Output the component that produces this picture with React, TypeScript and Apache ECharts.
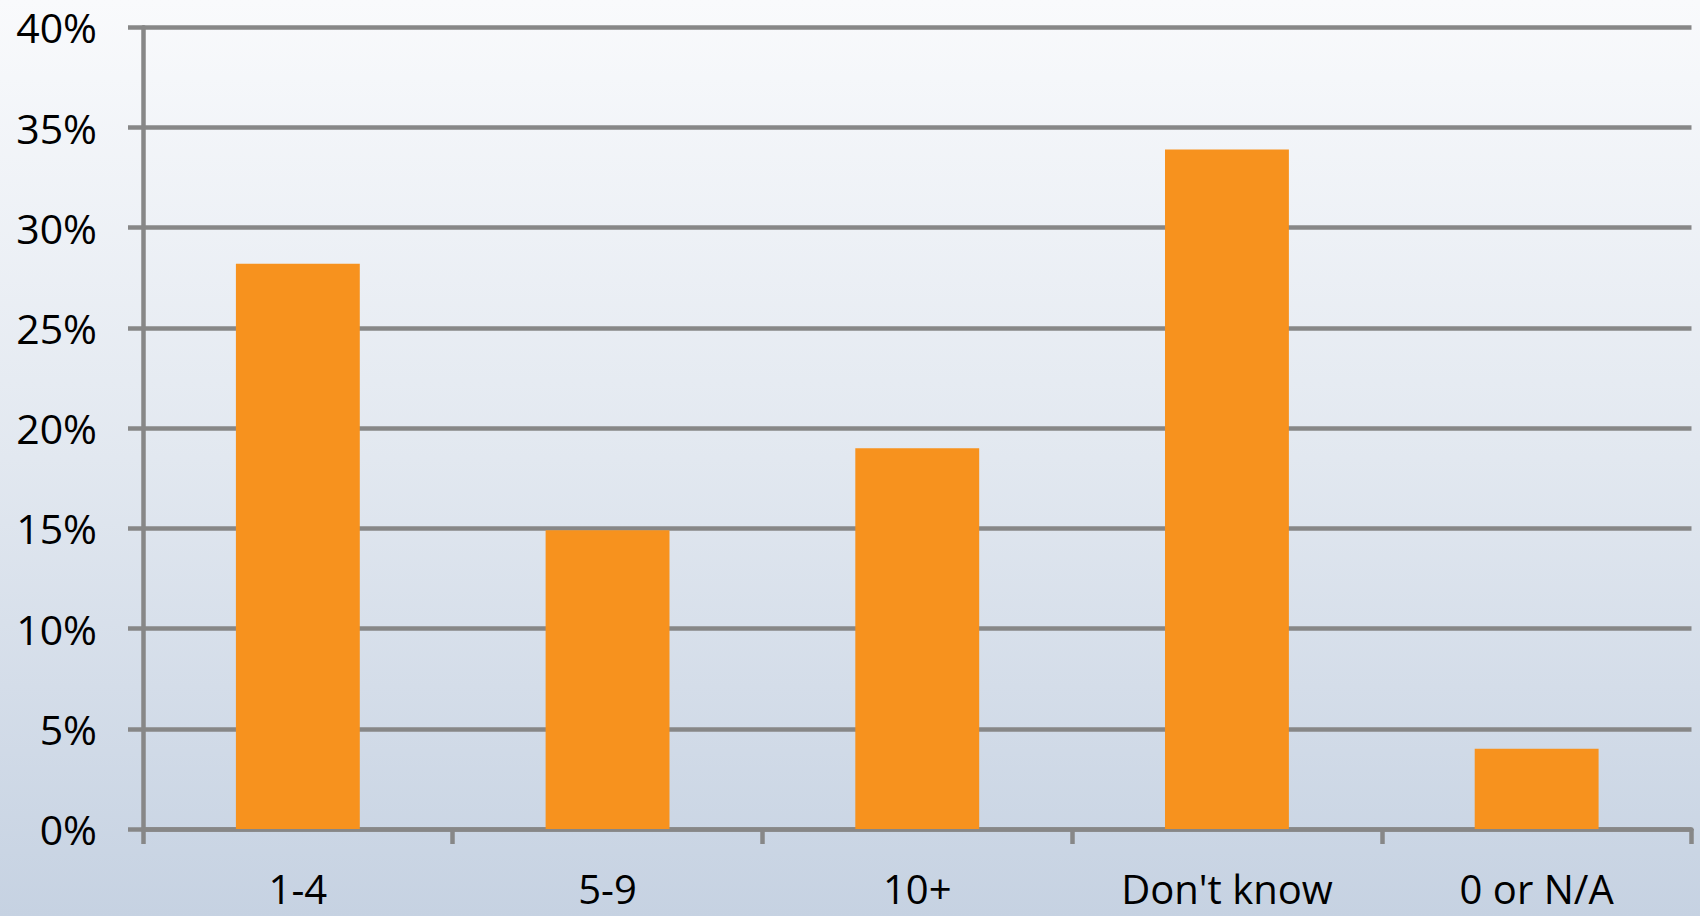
import React, { useEffect, useRef } from "react";
import * as echarts from "echarts";

const categories = ["1-4", "5-9", "10+", "Don't know", "0 or N/A"];
const shares = [28.2, 14.9, 19.0, 33.9, 4.0];
const yTicks = { min: 0, max: 40, interval: 5 };

export default function App() {
  const ref = useRef<HTMLDivElement>(null);
  useEffect(() => {
    if (!ref.current) return;
    const chart = echarts.init(ref.current, null, { renderer: "svg" });
    const gray = "#878787";
    const font = "Open Sans";
    chart.setOption({
      animation: false,
      backgroundColor: {
        type: "linear",
        x: 0,
        y: 0,
        x2: 0,
        y2: 1,
        colorStops: [
          { offset: 0, color: "#f9fafc" },
          { offset: 0.5, color: "#e2e8f0" },
          { offset: 1, color: "#c6d2e2" },
        ],
      },
      grid: { left: 143, right: 8.5, top: 27.3, bottom: 87, containLabel: false },
      xAxis: {
        type: "category",
        data: categories,
        boundaryGap: true,
        axisLine: { show: true, lineStyle: { color: gray, width: 4.5 } },
        axisTick: { show: true, alignWithLabel: false, length: 15, lineStyle: { color: gray, width: 4.5 } },
        axisLabel: { color: "#000", fontFamily: font, fontSize: 40, lineHeight: 40, margin: 39, interval: 0 },
        splitLine: { show: false },
      },
      yAxis: {
        type: "value",
        min: yTicks.min,
        max: yTicks.max,
        interval: yTicks.interval,
        axisLine: { show: true, lineStyle: { color: gray, width: 4.5 } },
        axisTick: { show: true, length: 15, lineStyle: { color: gray, width: 4.5 } },
        axisLabel: { color: "#000", fontFamily: font, fontSize: 41, margin: 46, formatter: "{value}%" },
        splitLine: { show: true, lineStyle: { color: gray, width: 4.5 } },
      },
      series: [
        {
          type: "bar",
          data: shares,
          barWidth: "40%",
          itemStyle: { color: "#f7921e" },
        },
      ],
    });
    return () => chart.dispose();
  }, []);
  return (
    <div
      ref={ref}
      style={{ position: "fixed", left: 0, top: 0, width: 1700, height: 916 }}
    />
  );
}
